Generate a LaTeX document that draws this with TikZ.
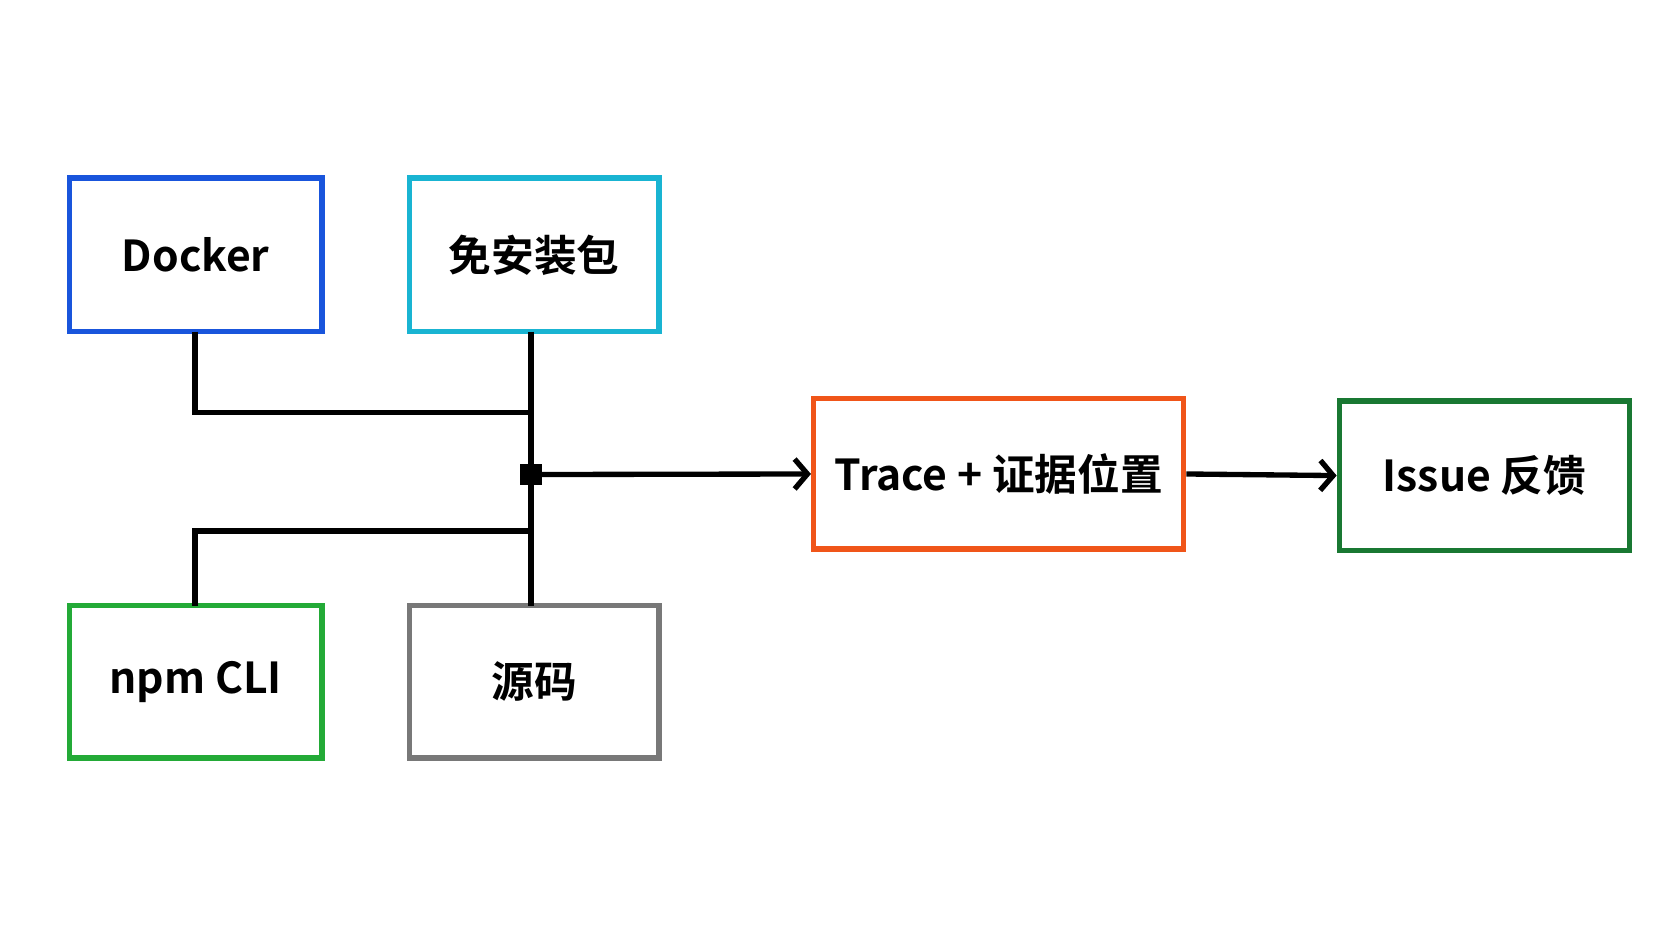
\documentclass[tikz,border=0pt]{standalone}
\usepackage{fontspec}
\setmainfont{Noto Sans CJK SC}[BoldFont={Noto Sans CJK SC Bold}]
\usepackage{tikz}
\usetikzlibrary{arrows.meta}
\definecolor{cDocker}{RGB}{25,85,220}
\definecolor{cPkg}{RGB}{25,180,210}
\definecolor{cNpm}{RGB}{35,170,55}
\definecolor{cSrc}{RGB}{120,120,120}
\definecolor{cTrace}{RGB}{240,85,25}
\definecolor{cIssue}{RGB}{25,120,50}
\tikzset{
  box/.style={draw, line width=5pt, fill=white, inner sep=0pt, font=\fontsize{40}{48}\selectfont\bfseries},
  link/.style={line width=5pt, black},
  flow/.style={link, -{Straight Barb[length=12pt,width=28pt,line width=5pt]}}
}
\begin{document}
\begin{tikzpicture}[x=1pt,y=1pt,yscale=-1]
\useasboundingbox (0,0) rectangle (1568,882);

% source boxes
\node[box, draw=cDocker, minimum width=237pt, minimum height=144pt] (docker) at (183.5,239) {Docker};
\node[box, draw=cPkg, minimum width=234pt, minimum height=144pt] (pkg) at (501,239) {免安装包};
\node[box, draw=cNpm, minimum width=237pt, minimum height=143pt] (npm) at (183.5,639.5) {npm CLI};
\node[box, draw=cSrc, minimum width=234pt, minimum height=143pt] (src) at (501,639.5) {源码};

% targets
\node[box, draw=cTrace, minimum width=347pt, minimum height=141pt] (trace) at (936.5,444.5) {Trace + 证据位置};
\node[box, draw=cIssue, minimum width=272pt, minimum height=140pt] (issue) at (1392,446) {Issue 反馈};

% junction
\node[fill=black, minimum size=20pt, inner sep=0pt] (hub) at (498,445) {};
\coordinate (dk) at (183,311);
\coordinate (nk) at (183,568);

\draw[link] (dk) -- (183,387) -- (498,387);
\draw[link] (nk) -- (183,498) -- (498,498);
\draw[link] (498,311) -- (hub.north);
\draw[link] (498,568) -- (hub.south);
\draw[flow] (hub.east) -- (trace.west);
\draw[flow] (trace.east) -- (issue.west);
\end{tikzpicture}
\end{document}
